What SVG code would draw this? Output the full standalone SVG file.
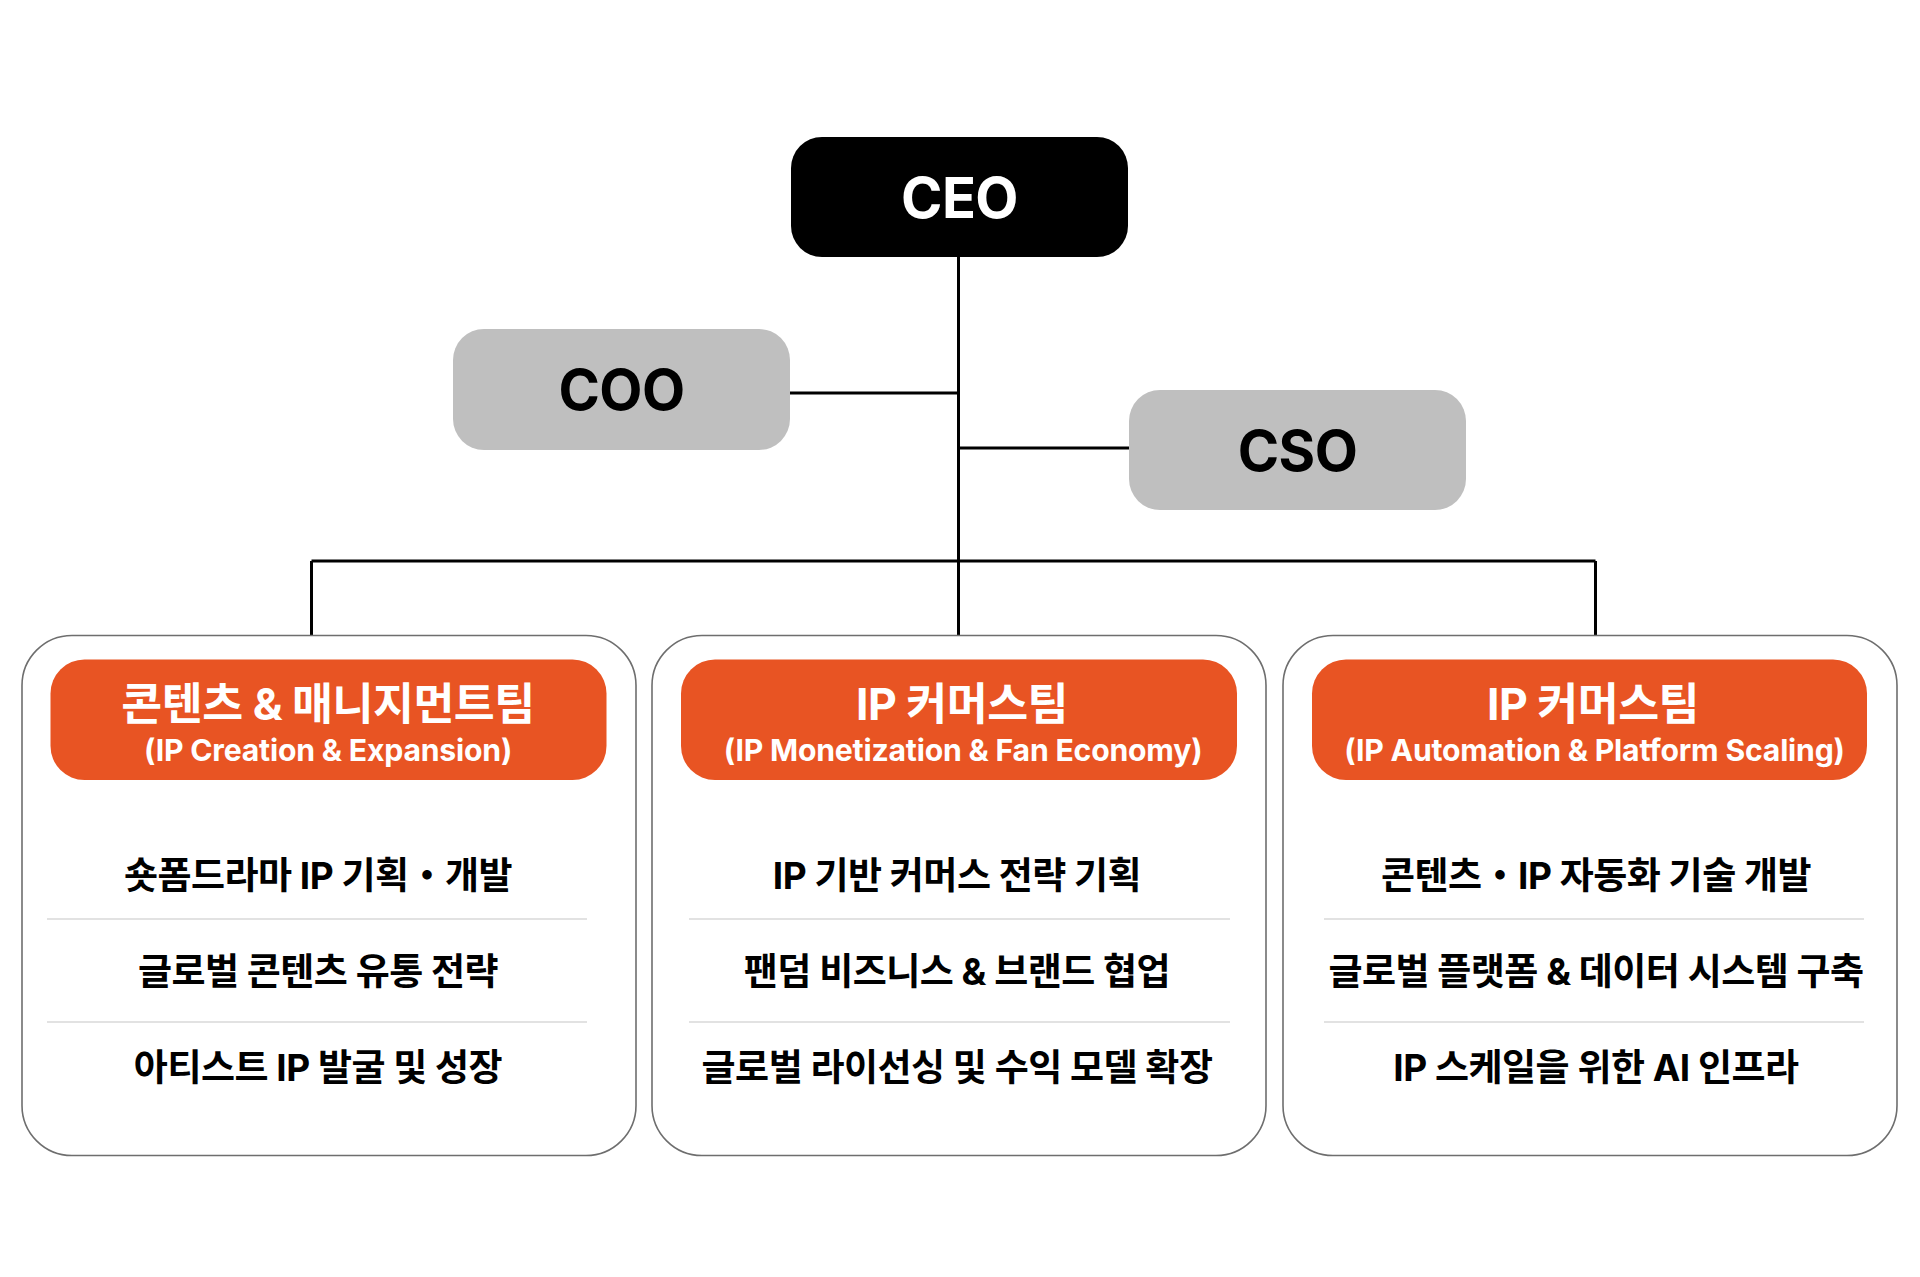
<svg xmlns="http://www.w3.org/2000/svg" width="1920" height="1277" viewBox="0 0 1920 1277">
<style>
.t{font-family:Inter,"Noto Sans CJK KR",sans-serif;font-weight:700;text-anchor:middle}
.exec{font-size:56px;letter-spacing:-0.6px}
.title{font-size:44.5px;fill:#fff;letter-spacing:-0.5px}
.sub{font-size:30.2px;fill:#fff;letter-spacing:-0.2px}
.item{font-size:37px;fill:#000;letter-spacing:-0.5px}
.card{fill:#fff;stroke:#6e6e6e;stroke-width:1.6}
.head{fill:#E85423}
.sep{stroke:#d9d9d9;stroke-width:1.6}
.conn{stroke:#000;stroke-width:3;fill:none}
</style>
<rect width="1920" height="1277" fill="#fff"/>
<g id="connectors">
<path class="conn" d="M958.5 257V635.5"/>
<path class="conn" d="M790 393H958.5"/>
<path class="conn" d="M958.5 448H1129"/>
<path class="conn" d="M311.5 561H1595.5"/>
<path class="conn" d="M311.5 561V635.5"/>
<path class="conn" d="M1595.5 561V635.5"/>
</g>
<g id="ceo">
<rect x="791" y="137" width="337" height="120" rx="31" fill="#000"/>
<text class="t exec" x="959.5" y="218" fill="#fff">CEO</text>
</g>
<g id="coo">
<rect x="453" y="329" width="337" height="121" rx="31" fill="#BFBFBF"/>
<text class="t exec" x="621.5" y="410" fill="#000">COO</text>
</g>
<g id="cso">
<rect x="1129" y="390" width="337" height="120" rx="31" fill="#BFBFBF"/>
<text class="t exec" x="1297.5" y="470.5" fill="#000">CSO</text>
</g>
<g id="team1">
<rect class="card" x="22" y="635.5" width="614" height="520" rx="50"/>
<rect class="head" x="50.5" y="659.5" width="556" height="120.5" rx="34"/>
<text class="t title" x="328" y="719.5">콘텐츠 &amp; 매니지먼트팀</text>
<text class="t sub" x="328" y="761">(IP Creation &amp; Expansion)</text>
<text class="t item" x="318" y="888.5">숏폼드라마 IP 기획・개발</text>
<line class="sep" x1="47" y1="919" x2="587" y2="919"/>
<text class="t item" x="318" y="984.5">글로벌 콘텐츠 유통 전략</text>
<line class="sep" x1="47" y1="1022" x2="587" y2="1022"/>
<text class="t item" x="318" y="1081">아티스트 IP 발굴 및 성장</text>
</g>
<g id="team2">
<rect class="card" x="652" y="635.5" width="614" height="520" rx="50"/>
<rect class="head" x="681" y="659.5" width="556" height="120.5" rx="34"/>
<text class="t title" x="962" y="719.5">IP 커머스팀</text>
<text class="t sub" x="963" y="761">(IP Monetization &amp; Fan Economy)</text>
<text class="t item" x="957" y="888.5">IP 기반 커머스 전략 기획</text>
<line class="sep" x1="689" y1="919" x2="1230" y2="919"/>
<text class="t item" x="957" y="984.5">팬덤 비즈니스 &amp; 브랜드 협업</text>
<line class="sep" x1="689" y1="1022" x2="1230" y2="1022"/>
<text class="t item" x="957" y="1081">글로벌 라이선싱 및 수익 모델 확장</text>
</g>
<g id="team3">
<rect class="card" x="1283" y="635.5" width="614" height="520" rx="50"/>
<rect class="head" x="1312" y="659.5" width="555" height="120.5" rx="34"/>
<text class="t title" x="1593" y="719.5">IP 커머스팀</text>
<text class="t sub" x="1594.5" y="761">(IP Automation &amp; Platform Scaling)</text>
<text class="t item" x="1596" y="888.5">콘텐츠・IP 자동화 기술 개발</text>
<line class="sep" x1="1324" y1="919" x2="1864" y2="919"/>
<text class="t item" x="1596" y="984.5">글로벌 플랫폼 &amp; 데이터 시스템 구축</text>
<line class="sep" x1="1324" y1="1022" x2="1864" y2="1022"/>
<text class="t item" x="1596" y="1081">IP 스케일을 위한 AI 인프라</text>
</g>
</svg>
